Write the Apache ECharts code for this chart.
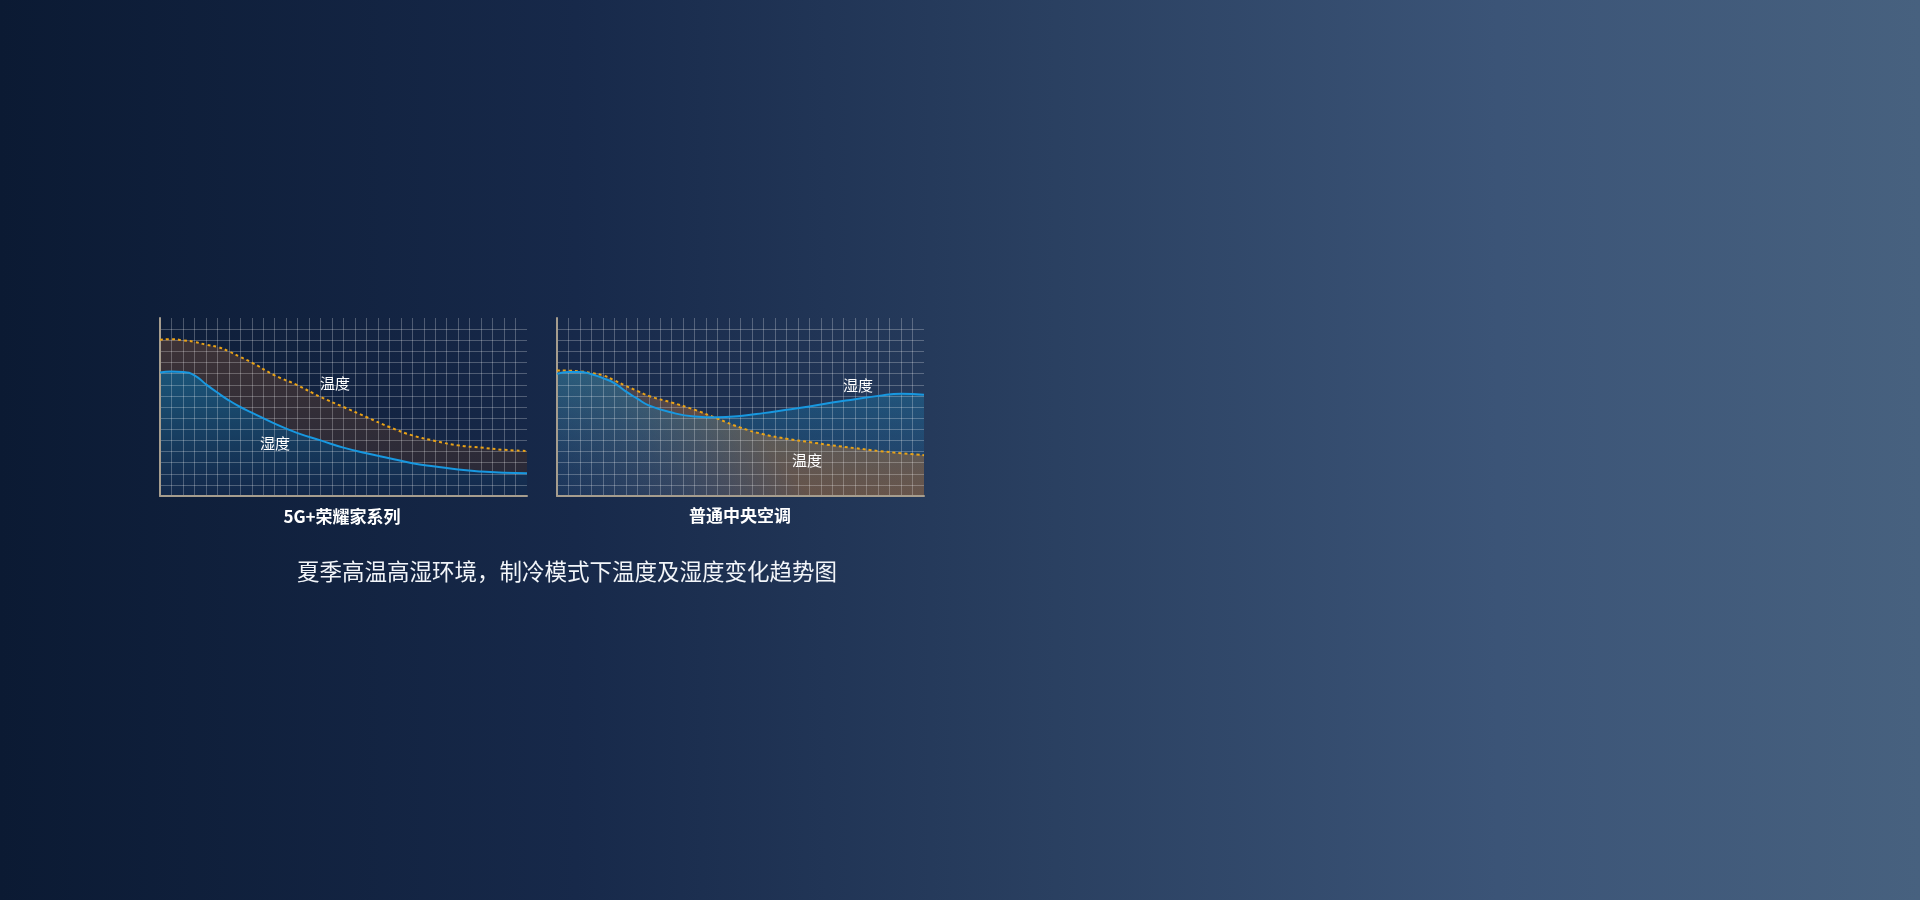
<!DOCTYPE html>
<html lang="zh-CN">
<head>
    <meta charset="UTF-8">
    <title>温度及湿度变化趋势图</title>
    <script src="https://cdn.jsdelivr.net/npm/echarts@6/dist/echarts.min.js"></script>
    <style>
        html, body { margin: 0; padding: 0; width: 100%; height: 100%; overflow: hidden; }
        body { background: linear-gradient(90deg, #0b1a33 0%, #17294a 30%, #2a4061 55%, #3b5477 78%, #47617f 100%); }
        #box { width: 1920px; height: 900px; }
    </style>
</head>
<body>
<div id="box"></div>

<script>
    // 横坐标（网格格数）
    var xs = [0, 1, 2, 3, 4, 5, 6, 7, 8, 10, 12, 14, 16, 18, 20, 22, 24, 26, 28, 30, 32];
    // 5G+荣耀家系列
    var leftTemp = [14.05, 14.1, 14.0, 13.85, 13.6, 13.4, 13.0, 12.5, 12.0, 10.85, 9.95, 8.9, 8.0, 7.1, 6.2, 5.45, 4.95, 4.55, 4.35, 4.15, 4.05];
    var leftHum = [11.1, 11.2, 11.15, 10.85, 10.05, 9.3, 8.6, 8.0, 7.5, 6.5, 5.65, 5.0, 4.35, 3.85, 3.4, 2.95, 2.65, 2.38, 2.2, 2.1, 2.05];
    // 普通中央空调
    var rightTemp = [11.28, 11.27, 11.2, 11.05, 10.85, 10.4, 9.9, 9.45, 9.0, 8.4, 7.75, 6.95, 6.15, 5.55, 5.15, 4.85, 4.55, 4.3, 4.05, 3.85, 3.67];
    var rightHum = [10.98, 11.15, 11.15, 10.95, 10.6, 10.15, 9.4, 8.75, 8.15, 7.5, 7.15, 7.07, 7.2, 7.45, 7.75, 8.05, 8.4, 8.7, 9.0, 9.2, 9.11];

    var titles = ['5G+荣耀家系列', '普通中央空调'];
    var caption = '夏季高温高湿环境，制冷模式下温度及湿度变化趋势图';

    function pairs(vals) {
        return xs.map(function (x, i) { return [x, vals[i]]; });
    }
    function grad(x, y, x2, y2, stops) {
        return new echarts.graphic.LinearGradient(x, y, x2, y2, stops.map(function (c, i) {
            return { offset: i / (stops.length - 1), color: c };
        }));
    }

    var axisLine = { show: true, lineStyle: { color: '#a69d8e', width: 2 } };
    var splitLine = { show: true, showMaxLine: false, lineStyle: { color: 'rgba(255,255,255,0.25)', width: 1 } };

    function xAxis(idx) {
        return {
            type: 'value', gridIndex: idx, min: 0, max: 32, interval: 1, z: 3,
            axisLine: axisLine, axisTick: { show: false }, axisLabel: { show: false },
            splitLine: splitLine
        };
    }
    function yAxis(idx) {
        return {
            type: 'value', gridIndex: idx, min: 0, max: 16, interval: 1, z: 3,
            axisLine: axisLine, axisTick: { show: false }, axisLabel: { show: false },
            splitLine: splitLine
        };
    }

    // 面积（在网格线下面）
    function areaSeries(idx, name, vals, fill, z) {
        return {
            name: name, type: 'line', xAxisIndex: idx, yAxisIndex: idx,
            data: pairs(vals), smooth: true, symbol: 'none', silent: true,
            lineStyle: { width: 0, opacity: 0 },
            areaStyle: { color: fill, opacity: 1 },
            z: z
        };
    }
    // 曲线（在网格线上面）
    function lineSeries(idx, name, vals, style) {
        return {
            name: name, type: 'line', xAxisIndex: idx, yAxisIndex: idx,
            data: pairs(vals), smooth: true, symbol: 'none',
            lineStyle: style, z: 6
        };
    }
    var tempLine = { color: '#eaa317', width: 2, type: [3, 3] };
    var humLine = { color: '#1898e0', width: 2 };

    var myChart = echarts.init(document.getElementById('box'));
    var option = {
        backgroundColor: 'transparent',
        animation: false,
        grid: [
            { left: 160, top: 318, width: 367, height: 178 },
            { left: 557, top: 318, width: 367, height: 178 }
        ],
        xAxis: [xAxis(0), xAxis(1)],
        yAxis: [yAxis(0), yAxis(1)],
        series: [
            areaSeries(0, '温度', leftTemp, grad(0, 0, 0, 1, ['#3d3337', '#272838']), 1),
            areaSeries(0, '湿度', leftHum, grad(0, 0, 0, 1, ['#1b5579', '#13284a']), 2),
            areaSeries(1, '温度', rightTemp, grad(0.4, 0, 0, 1, ['rgba(150,92,45,0.75)', 'rgba(125,100,92,0.32)', 'rgba(110,100,115,0.05)']), 1),
            areaSeries(1, '湿度', rightHum, grad(0, 0, 0, 1, ['rgba(30,140,185,0.42)', 'rgba(30,90,150,0.2)']), 2),
            lineSeries(0, '温度', leftTemp, tempLine),
            lineSeries(0, '湿度', leftHum, humLine),
            lineSeries(1, '温度', rightTemp, tempLine),
            lineSeries(1, '湿度', rightHum, humLine)
        ],
        graphic: [
            { type: 'text', x: 335, y: 383, z: 10, style: { text: '温度', fill: '#fff', font: '15px "Noto Sans CJK SC"', align: 'center', verticalAlign: 'middle' } },
            { type: 'text', x: 275, y: 443, z: 10, style: { text: '湿度', fill: '#fff', font: '15px "Noto Sans CJK SC"', align: 'center', verticalAlign: 'middle' } },
            { type: 'text', x: 858, y: 385, z: 10, style: { text: '湿度', fill: '#fff', font: '15px "Noto Sans CJK SC"', align: 'center', verticalAlign: 'middle' } },
            { type: 'text', x: 807, y: 460, z: 10, style: { text: '温度', fill: '#fff', font: '15px "Noto Sans CJK SC"', align: 'center', verticalAlign: 'middle' } },
            { type: 'text', x: 342, y: 517, style: { text: titles[0], fill: '#fff', font: 'bold 17px "Noto Sans CJK SC"', align: 'center', verticalAlign: 'middle' } },
            { type: 'text', x: 740, y: 516, style: { text: titles[1], fill: '#fff', font: 'bold 17px "Noto Sans CJK SC"', align: 'center', verticalAlign: 'middle' } },
            { type: 'text', x: 567, y: 571, style: { text: caption, fill: '#f2f5f9', font: '22.5px "Noto Sans CJK SC"', align: 'center', verticalAlign: 'middle' } }
        ]
    };
    myChart.setOption(option);
</script>
</body>
</html>
